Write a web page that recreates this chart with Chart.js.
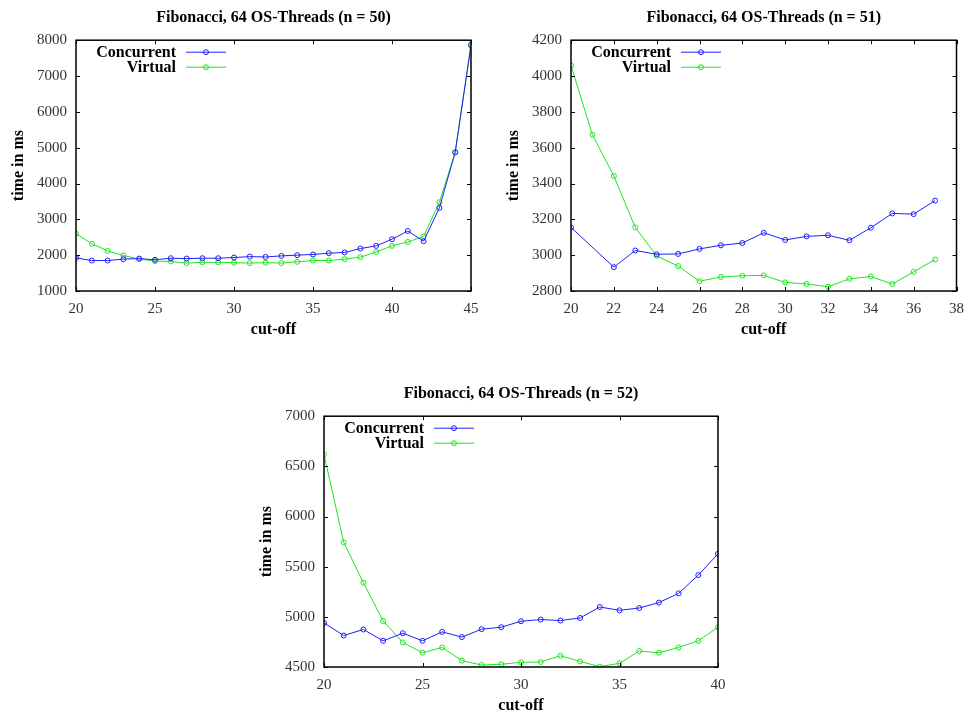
<!DOCTYPE html>
<html>
<head>
<meta charset="utf-8">
<script src="https://cdn.jsdelivr.net/npm/chart.js@4.4.1/dist/chart.umd.min.js"></script>
<style>
  html, body { margin: 0; padding: 0; background: #fff; overflow: hidden; }
  body { width: 973px; height: 715px; position: relative; }
  .box { position: absolute; }
</style>
</head>
<body>
<div class="box" style="left:0px;top:0px;width:490px;height:341px"><canvas id="c50"></canvas></div>
<div class="box" style="left:495px;top:0px;width:478px;height:341px"><canvas id="c51"></canvas></div>
<div class="box" style="left:248px;top:376px;width:489px;height:341px"><canvas id="c52"></canvas></div>
<script>
// n = 50
const cutoff50 = [20,21,22,23,24,25,26,27,28,29,30,31,32,33,34,35,36,37,38,39,40,41,42,43,44,45];
const conc50 = [1925,1850,1850,1890,1905,1870,1915,1905,1915,1915,1935,1960,1950,1980,2000,2020,2055,2075,2185,2260,2445,2675,2390,3320,4870,7870];
const virt50 = [2600,2320,2120,1990,1890,1835,1825,1780,1800,1800,1790,1780,1790,1780,1815,1850,1850,1890,1945,2090,2260,2370,2520,3480,4870,7835];

// n = 51 (no Concurrent value at cut-off 21)
const cutoff51 = [20,21,22,23,24,25,26,27,28,29,30,31,32,33,34,35,36,37];
const conc51 = [3155,null,2933,3026,3005,3007,3035,3055,3068,3125,3085,3105,3111,3083,3153,3233,3229,3305];
const virt51 = [4059,3672,3442,3155,2996,2939,2855,2878,2885,2887,2848,2839,2824,2868,2881,2839,2907,2976];

// n = 52
const cutoff52 = [20,21,22,23,24,25,26,27,28,29,30,31,32,33,34,35,36,37,38,39,40];
const conc52 = [4939,4814,4874,4761,4837,4761,4850,4798,4877,4897,4956,4973,4963,4989,5098,5065,5088,5142,5234,5416,5628];
const virt52 = [6620,5743,5340,4959,4745,4642,4695,4563,4520,4527,4547,4550,4612,4556,4503,4537,4659,4642,4695,4761,4897];

const BLUE = '#1f1fff';
const GREEN = '#1fe61f';
const SERIF = '"Liberation Serif", "Times New Roman", serif';

function pts(xs, ys) {
    return xs.map((x, i) => ({ x: x, y: ys[i] }));
}

// gnuplot-like frame, inward ticks on all four sides, and legend inside the plot
const framePlugin = {
    id: 'frame',
    afterDatasetsDraw(chart) {
        const ctx = chart.ctx;
        const a = chart.chartArea;
        const len = 4;
        ctx.save();
        ctx.strokeStyle = '#000';
        ctx.lineWidth = 1;
        ctx.beginPath();
        chart.scales.x.ticks.forEach(t => {
            const px = Math.round(chart.scales.x.getPixelForValue(t.value)) + 0.5;
            ctx.moveTo(px, a.bottom); ctx.lineTo(px, a.bottom - len);
            ctx.moveTo(px, a.top); ctx.lineTo(px, a.top + len);
        });
        chart.scales.y.ticks.forEach(t => {
            const py = Math.round(chart.scales.y.getPixelForValue(t.value)) + 0.5;
            ctx.moveTo(a.left, py); ctx.lineTo(a.left + len, py);
            ctx.moveTo(a.right, py); ctx.lineTo(a.right - len, py);
        });
        ctx.stroke();
        ctx.lineWidth = 1.5;
        ctx.strokeRect(a.left, a.top, a.right - a.left, a.bottom - a.top);

        // legend
        chart.data.datasets.forEach((ds, i) => {
            const y = a.top + 12 + i * 15;
            ctx.fillStyle = '#000';
            ctx.font = 'bold 16px ' + SERIF;
            ctx.textAlign = 'right';
            ctx.textBaseline = 'middle';
            ctx.fillText(ds.label, a.left + 100, y + 1);
            ctx.strokeStyle = ds.borderColor;
            ctx.lineWidth = 1;
            ctx.beginPath();
            ctx.moveTo(a.left + 110, y); ctx.lineTo(a.left + 150, y);
            ctx.stroke();
            ctx.beginPath();
            ctx.arc(a.left + 130, y, 2.5, 0, Math.PI * 2);
            ctx.stroke();
        });
        ctx.restore();
    }
};

function makeChart(id, title, xs, conc, virt, xr, yr) {
    const ctx = document.getElementById(id).getContext('2d');
    return new Chart(ctx, {
        type: 'line',
        data: {
            datasets: [
                {
                    label: 'Concurrent',
                    data: pts(xs, conc),
                    borderColor: BLUE,
                    borderWidth: 1,
                    pointRadius: 2.5,
                    pointBorderWidth: 1,
                    pointBackgroundColor: 'rgba(0,0,0,0)',
                    pointBorderColor: BLUE,
                    spanGaps: true,
                    tension: 0
                },
                {
                    label: 'Virtual',
                    data: pts(xs, virt),
                    borderColor: GREEN,
                    borderWidth: 1,
                    pointRadius: 2.5,
                    pointBorderWidth: 1,
                    pointBackgroundColor: 'rgba(0,0,0,0)',
                    pointBorderColor: GREEN,
                    tension: 0
                }
            ]
        },
        options: {
            responsive: true,
            maintainAspectRatio: false,
            animation: false,
            layout: { padding: { left: 0, right: xr.padRight, top: 0, bottom: 0 } },
            plugins: {
                legend: { display: false },
                tooltip: { enabled: false },
                title: {
                    display: true,
                    text: title,
                    fullSize: false,
                    color: '#000',
                    font: { family: SERIF, size: 16, weight: 'bold' },
                    padding: { top: 8, bottom: 13 }
                }
            },
            scales: {
                x: {
                    type: 'linear',
                    min: xr.min,
                    max: xr.max,
                    afterFit: s => { s.height = 50; },
                    grid: { display: false, drawTicks: false },
                    border: { display: false },
                    ticks: {
                        stepSize: xr.step,
                        padding: 9,
                        color: '#333',
                        font: { family: SERIF, size: 15 },
                        callback: v => String(v)
                    },
                    title: {
                        display: true,
                        text: 'cut-off',
                        color: '#000',
                        font: { family: SERIF, size: 16, weight: 'bold' },
                        padding: { top: 4, bottom: 2 }
                    }
                },
                y: {
                    min: yr.min,
                    max: yr.max,
                    afterFit: s => { s.width = 76; },
                    grid: { display: false, drawTicks: false },
                    border: { display: false },
                    ticks: {
                        stepSize: yr.step,
                        padding: 9,
                        color: '#333',
                        font: { family: SERIF, size: 15 },
                        callback: v => String(v)
                    },
                    title: {
                        display: true,
                        text: 'time in ms',
                        color: '#000',
                        font: { family: SERIF, size: 16, weight: 'bold' },
                        padding: { top: 9, bottom: 0 }
                    }
                }
            }
        },
        plugins: [framePlugin]
    });
}

makeChart('c50', 'Fibonacci, 64 OS-Threads (n = 50)', cutoff50, conc50, virt50,
    { min: 20, max: 45, step: 5, padRight: 19 }, { min: 1000, max: 8000, step: 1000 });
makeChart('c51', 'Fibonacci, 64 OS-Threads (n = 51)', cutoff51, conc51, virt51,
    { min: 20, max: 38, step: 2, padRight: 9 }, { min: 2800, max: 4200, step: 200 });
makeChart('c52', 'Fibonacci, 64 OS-Threads (n = 52)', cutoff52, conc52, virt52,
    { min: 20, max: 40, step: 5, padRight: 19 }, { min: 4500, max: 7000, step: 500 });
</script>
</body>
</html>
